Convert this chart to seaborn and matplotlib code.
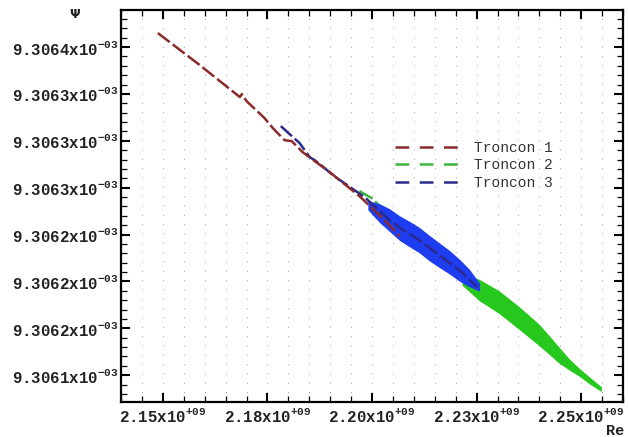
import numpy as np
import pandas as pd
import matplotlib
matplotlib.use("Agg")
import matplotlib.pyplot as plt
from matplotlib.ticker import FixedLocator, MultipleLocator
from matplotlib.lines import Line2D
import seaborn as sns

sns.set_theme(style="white")
plt.rcParams["font.family"] = ["Liberation Mono", "DejaVu Sans"]
plt.rcParams["mathtext.default"] = "regular"

# ---- data (Re in 1e9, psi in 1e-3) ----
t1_re = [2.1488, 2.1588, 2.1684, 2.1689, 2.1700, 2.1743, 2.1763, 2.1779, 2.1791,
         2.1808, 2.1834, 2.1899, 2.1970, 2.2030, 2.2066]
t1_psi = [9.3063805, 9.3063566, 9.3063327, 9.3063349, 9.3063297, 9.3063170, 9.3063095,
          9.3063043, 9.3063005, 9.3062998, 9.3062916, 9.3062766, 9.3062587, 9.3062408,
          9.3062288]

t3_re = [2.1782, 2.1803, 2.1827, 2.1851, 2.1863, 2.1887, 2.1906, 2.1934, 2.1958,
         2.1982, 2.2006, 2.2042, 2.2078, 2.2113, 2.2161, 2.2209, 2.2252]
t3_psi = [9.3063110, 9.3063050, 9.3062983, 9.3062878, 9.3062856, 9.3062796, 9.3062744,
          9.3062684, 9.3062632, 9.3062580, 9.3062512, 9.3062408, 9.3062326, 9.3062259,
          9.3062146, 9.3062034, 9.3061907]

t2_re = [2.1970, 2.1999, 2.2042, 2.2113, 2.2185, 2.2233, 2.2304, 2.2352, 2.2400,
         2.2447, 2.2495, 2.2548]
t2_psi = [9.3062625, 9.3062572, 9.3062445, 9.3062273, 9.3062094, 9.3061945, 9.3061795,
          9.3061676, 9.3061549, 9.3061400, 9.3061273, 9.3061146]

# dense band envelopes (centre and half width)
band3_re = [2.1990, 2.2018, 2.2042, 2.2066, 2.2090, 2.2113, 2.2137, 2.2161, 2.2185,
            2.2209, 2.2233, 2.2257]
band3_psi = [9.3062520, 9.3062460, 9.3062408, 9.3062348, 9.3062303, 9.3062259, 9.3062199,
             9.3062146, 9.3062094, 9.3062034, 9.3061975, 9.3061907]
band3_hw = [0.0000035, 0.0000070, 0.0000085, 0.0000092, 0.0000095, 0.0000095, 0.0000095,
            0.0000092, 0.0000088, 0.0000082, 0.0000065, 0.0000030]

band2_re = [2.2215, 2.2257, 2.2304, 2.2352, 2.2400, 2.2424, 2.2447, 2.2471, 2.2495,
            2.2519, 2.2548]
band2_psi = [9.3061968, 9.3061885, 9.3061795, 9.3061676, 9.3061549, 9.3061474, 9.3061400,
             9.3061332, 9.3061273, 9.3061213, 9.3061146]
band2_hw = [0.0000045, 0.0000080, 0.0000085, 0.0000085, 0.0000080, 0.0000070, 0.0000060,
            0.0000042, 0.0000030, 0.0000026, 0.0000018]

series_names = ["Troncon 1", "Troncon 2", "Troncon 3"]
line_colors = ["#8b2a2a", "#3cb43c", "#2a2a8c"]
band_colors = {"Troncon 2": "#26c81e", "Troncon 3": "#1e3cf0"}

x_ticks = [2.15, 2.175, 2.20, 2.225, 2.25]
x_tick_labels = ["2.15", "2.18", "2.20", "2.23", "2.25"]
y_ticks = [9.30637, 9.306335, 9.3063, 9.306265, 9.30623, 9.306195, 9.30616, 9.306125]
y_tick_labels = ["9.3064", "9.3063", "9.3063", "9.3063", "9.3062", "9.3062", "9.3062", "9.3061"]

# ---- figure ----
fig = plt.figure(figsize=(6.29, 4.37), dpi=100)
ax = fig.add_axes([0.1924, 0.0801, 0.7981, 0.8970])
ax.set_facecolor("white")

ax.set_xlim(2.14, 2.26)
ax.set_ylim(9.306105, 9.3063977)

# dotted vertical grid at minor x ticks
for gx in np.arange(2.145, 2.2601, 0.005):
    ax.axvline(gx, color="#b0b0b0", lw=0.8, dashes=(1, 7.4), zorder=0)

df = pd.concat([
    pd.DataFrame({"Re": t1_re, "psi": t1_psi, "s": series_names[0]}),
    pd.DataFrame({"Re": t2_re, "psi": t2_psi, "s": series_names[1]}),
    pd.DataFrame({"Re": t3_re, "psi": t3_psi, "s": series_names[2]}),
])
for name, col, z in zip(series_names, line_colors, [5, 1.5, 4]):
    sub = df[df["s"] == name]
    sns.lineplot(data=sub, x="Re", y="psi", color=col, sort=False, estimator=None,
                 lw=1.8, ax=ax, zorder=z, dashes=False)
    ax.lines[-1].set_dashes((6, 1.5))

# bands
ax.fill_between(band2_re, np.array(band2_psi) - np.array(band2_hw),
                np.array(band2_psi) + np.array(band2_hw), color=band_colors["Troncon 2"],
                lw=0, zorder=2)
ax.fill_between(band3_re, np.array(band3_psi) - np.array(band3_hw),
                np.array(band3_psi) + np.array(band3_hw), color=band_colors["Troncon 3"],
                lw=0, zorder=3)

# ticks
ax.xaxis.set_major_locator(FixedLocator(x_ticks))
ax.set_xticklabels([f"{t}x10$^{{+09}}$" for t in x_tick_labels])
ax.xaxis.set_minor_locator(MultipleLocator(0.005))
ax.yaxis.set_major_locator(FixedLocator(y_ticks))
ax.set_yticklabels([f"{t}x10$^{{-03}}$" for t in y_tick_labels])
ax.yaxis.set_minor_locator(FixedLocator([y_ticks[0] + k * 0.000007 for k in range(-42, 6)]))

ax.tick_params(which="both", direction="in", top=True, right=True, left=True, bottom=True,
               colors="black")
ax.tick_params(which="major", length=6.5, width=1.5, labelsize=11.3, pad=2)
ax.tick_params(which="minor", length=4.2, width=0.9)
ax.tick_params(axis="x", which="major", pad=3.5)
for lab in ax.get_xticklabels() + ax.get_yticklabels():
    lab.set_fontweight("bold")
    lab.set_color("#222222")

for sp in ax.spines.values():
    sp.set_visible(True)
    sp.set_color("black")
    sp.set_linewidth(1.6)

ax.set_xlabel("")
ax.set_ylabel("")

fig.text(75 / 629, 1 - 15 / 437, "Ψ", ha="center", va="center", fontsize=9,
         fontweight="bold", family=["DejaVu Sans"], color="#222222")
fig.text(624 / 629, 1 - 431 / 437, "Re", ha="right", va="center", fontsize=11,
         fontweight="bold", color="#222222")

handles = [Line2D([0], [0], color=c, lw=1.8, dashes=(5.5, 4.2)) for c in line_colors]
leg = ax.legend(handles, series_names, loc="upper left", bbox_to_anchor=(0.52, 0.70),
                frameon=False, fontsize=10.5, handlelength=4.6, handletextpad=0.8,
                labelspacing=0.25)
for t in leg.get_texts():
    t.set_color("#333333")

fig.savefig("out.png", dpi=100, facecolor="white")
